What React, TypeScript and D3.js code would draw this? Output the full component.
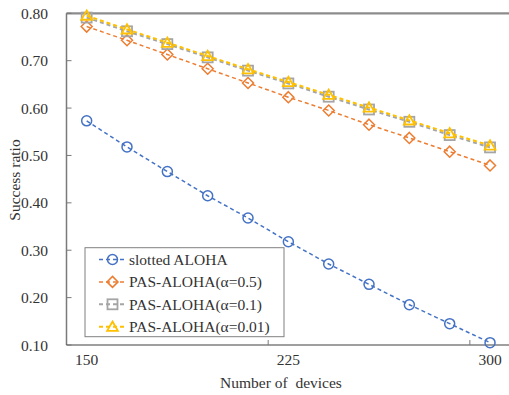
import { useMemo } from "react";
import * as d3 from "d3";

const WIDTH = 509;
const HEIGHT = 395;

// plot area (Excel-ish: right edge runs just past the picture)
const PLOT = { left: 66.5, right: 510.2, top: 13.3, bottom: 345 };

const devices = [150, 165, 180, 195, 210, 225, 240, 255, 270, 285, 300];
const xLabels = [150, 225, 300];
const yTicks = [0.1, 0.2, 0.3, 0.4, 0.5, 0.6, 0.7, 0.8];

const slottedAloha = [0.573, 0.518, 0.466, 0.415, 0.368, 0.318, 0.271, 0.228, 0.185, 0.145, 0.105];
const pasAlpha05 = [0.772, 0.743, 0.713, 0.683, 0.653, 0.623, 0.595, 0.565, 0.537, 0.508, 0.479];
const pasAlpha01 = [0.791, 0.762, 0.735, 0.707, 0.679, 0.652, 0.624, 0.597, 0.571, 0.543, 0.517];
const pasAlpha001 = [0.795, 0.766, 0.738, 0.710, 0.682, 0.655, 0.628, 0.601, 0.574, 0.547, 0.521];

const seriesNames = ["slotted ALOHA", "PAS-ALOHA(α=0.5)", "PAS-ALOHA(α=0.1)", "PAS-ALOHA(α=0.01)"];
const seriesColors = ["#4472C4", "#ED7D31", "#A5A5A5", "#FFC000"];
const seriesShapes = ["circle", "diamond", "square", "triangle"];
const seriesWidths = [1.5, 1.5, 2, 2];

const FONT = "'Liberation Serif', 'Times New Roman', serif";
const TEXT = "#333";

const Marker = ({ shape, x, y, color }) => {
  if (shape === "circle") {
    return <circle cx={x} cy={y} r={5} fill="none" stroke={color} strokeWidth={1.5} />;
  }
  if (shape === "diamond") {
    const r = 5.5;
    return (
      <path
        d={`M${x},${y - r}L${x + r},${y}L${x},${y + r}L${x - r},${y}Z`}
        fill="none"
        stroke={color}
        strokeWidth={1.5}
      />
    );
  }
  if (shape === "square") {
    return <rect x={x - 5} y={y - 5} width={10} height={10} fill="none" stroke={color} strokeWidth={1.8} />;
  }
  const tri = d3.symbol(d3.symbolTriangle, 50)();
  return <path d={tri} transform={`translate(${x},${y + 1})`} fill="none" stroke={color} strokeWidth={1.8} />;
};

export default function App() {
  const xScale = useMemo(
    () => d3.scaleBand().domain(devices.map(String)).range([PLOT.left, PLOT.right]).padding(0),
    []
  );
  const yScale = useMemo(() => d3.scaleLinear().domain([0.1, 0.8]).range([PLOT.bottom, PLOT.top]), []);

  const xc = (d) => (xScale(String(d)) ?? 0) + xScale.bandwidth() / 2;

  const allSeries = [slottedAloha, pasAlpha05, pasAlpha01, pasAlpha001];

  const lineGen = d3
    .line()
    .x((d) => xc(d[0]))
    .y((d) => yScale(d[1]));

  // category tick marks every 5 categories, on band boundaries
  const xTickMarks = [5, 10].map((i) => xScale(String(devices[i])) ?? 0);

  const legend = { x: 85, y: 247.7, w: 199, h: 89, rowH: 22.4, first: 259.5 };

  return (
    <svg
      width={WIDTH}
      height={HEIGHT}
      style={{ position: "absolute", left: 0, top: 0, background: "#fff" }}
      fontFamily={FONT}
    >
      {/* frame */}
      <line x1={PLOT.left} x2={WIDTH + 5} y1={PLOT.top} y2={PLOT.top} stroke="#8c8c8c" strokeWidth={2.2} />
      <line x1={PLOT.left} x2={PLOT.left} y1={PLOT.top} y2={PLOT.bottom} stroke="#7a7a7a" strokeWidth={1.5} />
      <line x1={PLOT.left} x2={WIDTH + 5} y1={PLOT.bottom} y2={PLOT.bottom} stroke="#404040" strokeWidth={1.2} />

      {/* y ticks */}
      {yTicks.map((t) => (
        <g key={t}>
          <line x1={PLOT.left} x2={PLOT.left + 5} y1={yScale(t)} y2={yScale(t)} stroke="#7a7a7a" strokeWidth={1} />
          <text x={48} y={yScale(t)} textAnchor="end" dominantBaseline="central" fontSize={15.5} fill={TEXT}>
            {t.toFixed(2)}
          </text>
        </g>
      ))}

      {/* x ticks */}
      {xTickMarks.map((x, i) => (
        <line key={i} x1={x} x2={x} y1={PLOT.bottom} y2={PLOT.bottom - 5} stroke="#7a7a7a" strokeWidth={1} />
      ))}
      {xLabels.map((d) => (
        <text key={d} x={xc(d)} y={365} textAnchor="middle" fontSize={15.5} fill={TEXT}>
          {d}
        </text>
      ))}

      {/* axis titles */}
      <text x={281} y={388} textAnchor="middle" fontSize={15.5} fill={TEXT} style={{ whiteSpace: "pre" }}>
        {"Number of  devices"}
      </text>
      <text
        transform="translate(20,180) rotate(-90)"
        textAnchor="middle"
        fontSize={15.5}
        fill={TEXT}
      >
        Success ratio
      </text>

      {/* series */}
      {allSeries.map((vals, si) => {
        const pts = devices.map((d, i) => [d, vals[i]]);
        return (
          <g key={si}>
            <path
              d={lineGen(pts) ?? ""}
              fill="none"
              stroke={seriesColors[si]}
              strokeWidth={seriesWidths[si]}
              strokeDasharray="4 3"
            />
            {pts.map((p, i) => (
              <Marker key={i} shape={seriesShapes[si]} x={xc(p[0])} y={yScale(p[1])} color={seriesColors[si]} />
            ))}
          </g>
        );
      })}

      {/* legend */}
      <rect x={legend.x} y={legend.y} width={legend.w} height={legend.h} fill="#fff" stroke="#808080" strokeWidth={1} />
      {seriesNames.map((name, i) => {
        const y = legend.first + i * legend.rowH;
        return (
          <g key={name}>
            <line
              x1={99}
              x2={126}
              y1={y}
              y2={y}
              stroke={seriesColors[i]}
              strokeWidth={seriesWidths[i]}
              strokeDasharray="4 3"
            />
            <Marker shape={seriesShapes[i]} x={112.5} y={y} color={seriesColors[i]} />
            <text x={129} y={y} dominantBaseline="central" fontSize={15.5} fill={TEXT}>
              {name}
            </text>
          </g>
        );
      })}
    </svg>
  );
}
